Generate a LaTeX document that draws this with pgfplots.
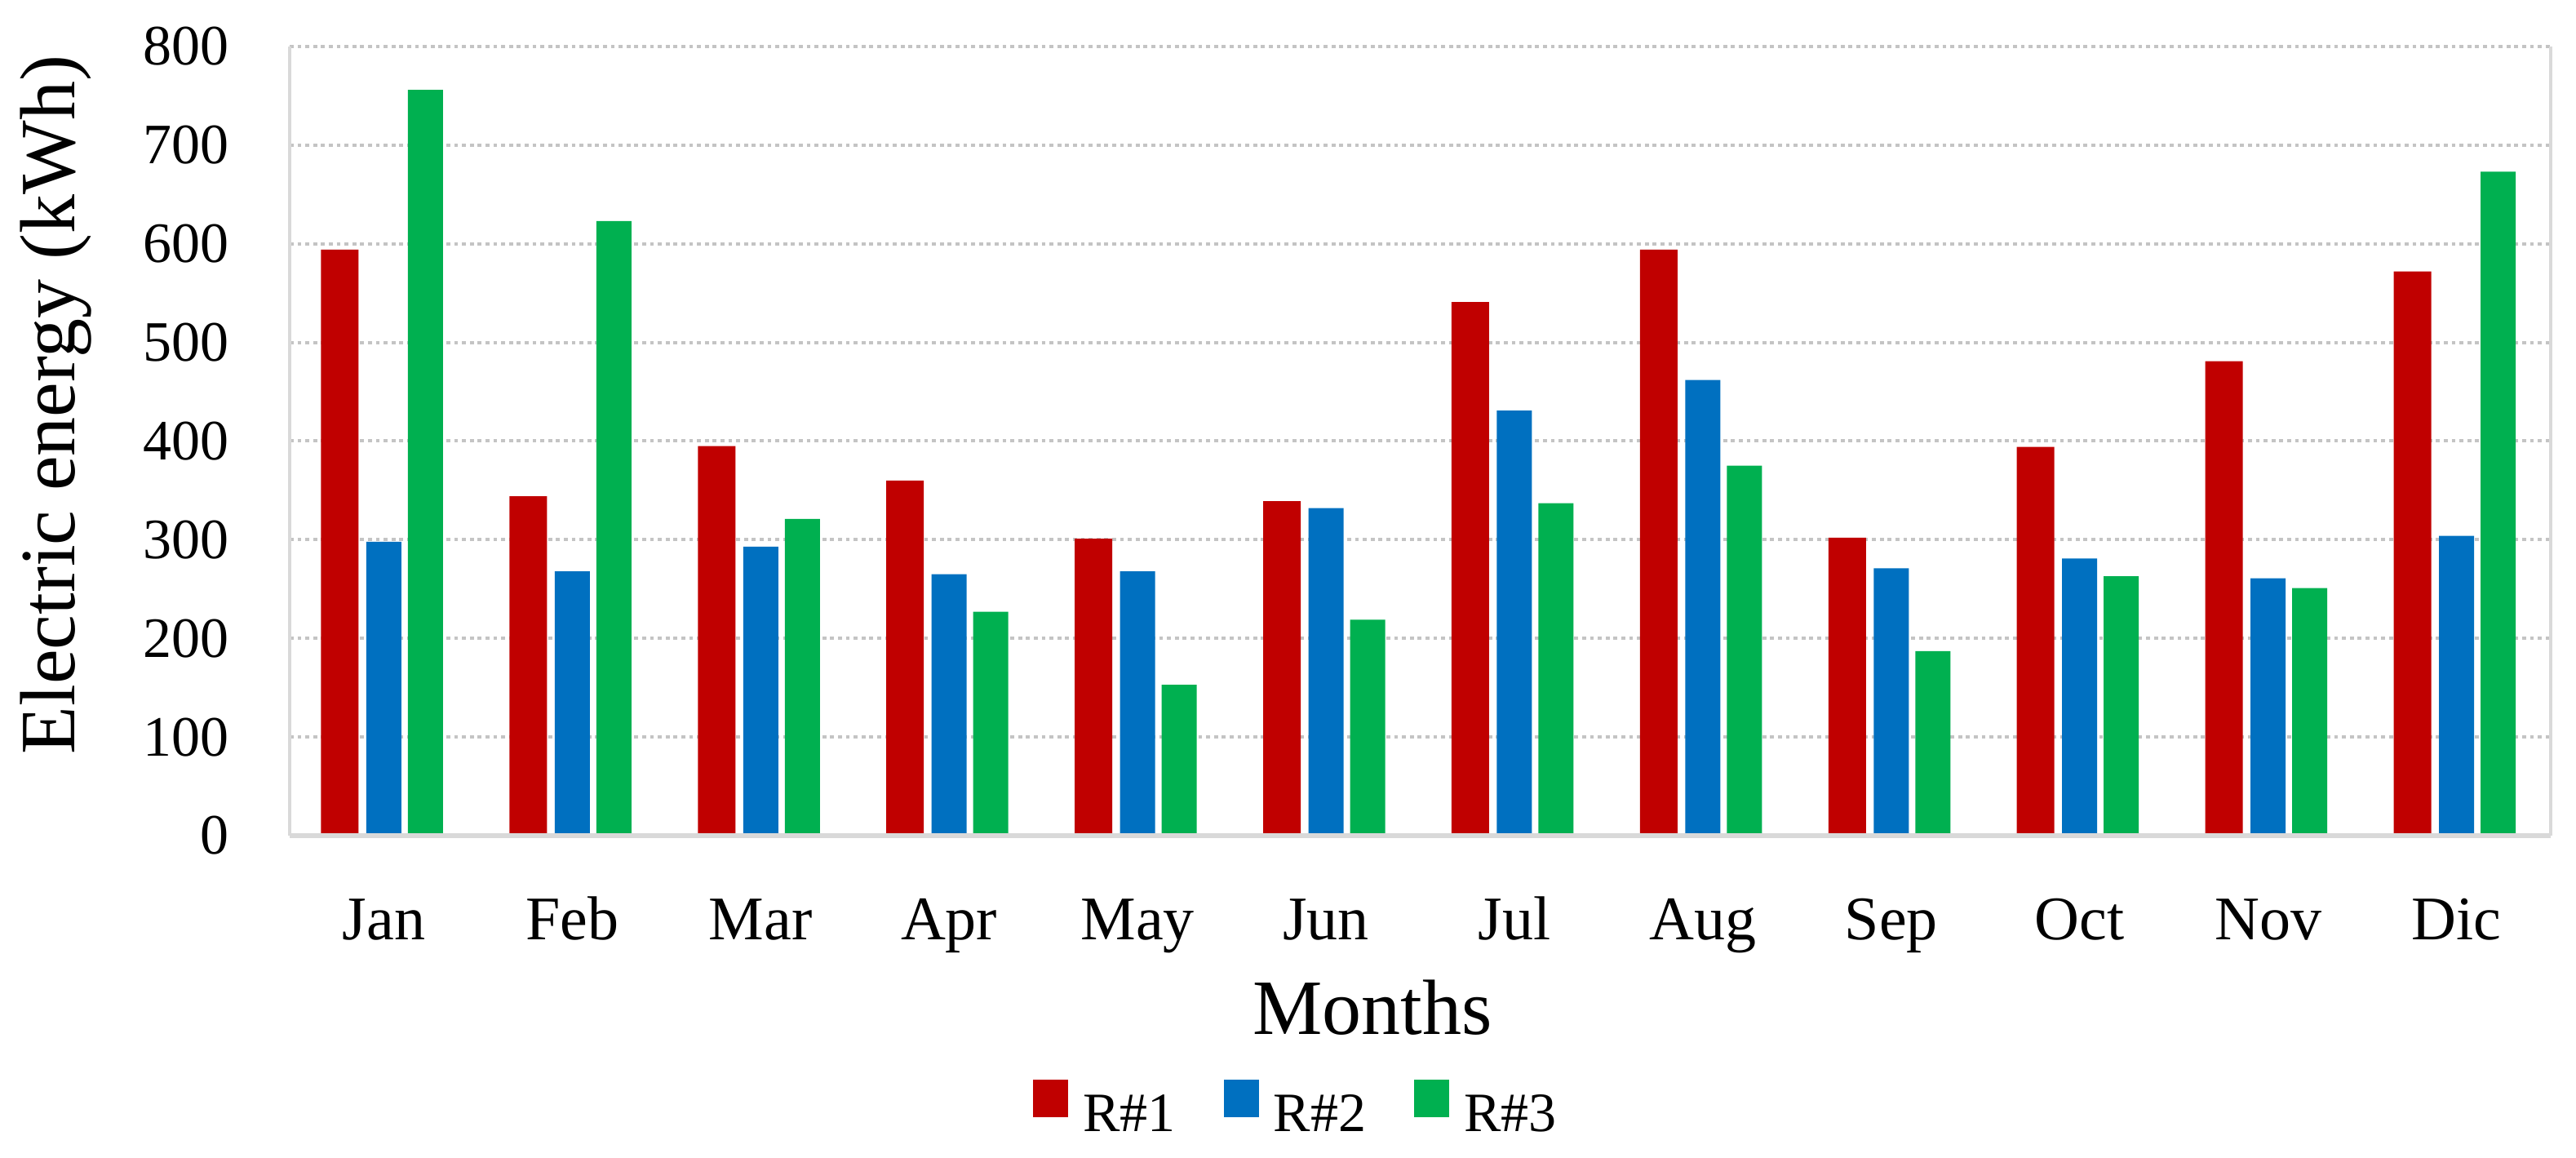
\documentclass[border=0pt]{standalone}
\usepackage{fontspec}
\setmainfont{Liberation Serif}
\usepackage{pgfplots}
\pgfplotsset{compat=1.18}
\definecolor{cR}{HTML}{C00000}
\definecolor{cB}{HTML}{0070C0}
\definecolor{cG}{HTML}{00B050}
\definecolor{gridc}{HTML}{C4C4C4}
\definecolor{axc}{HTML}{D9D9D9}
\begin{document}
\begin{tikzpicture}
\useasboundingbox (-88.75pt,-98.75pt) rectangle (700.5pt,256pt);
\begin{axis}[
  at={(0pt,0pt)}, anchor=south west,
  scale only axis, width=692.75pt, height=241.75pt,
  xmin=-0.5, xmax=11.5, ymin=0, ymax=800,
  ytick={0,100,...,800},
  xtick={0,...,11},
  xticklabels={Jan,Feb,Mar,Apr,May,Jun,Jul,Aug,Sep,Oct,Nov,Dic},
  major tick length=0pt,
  ymajorgrids,
  grid style={draw=gridc, line width=1pt, dash pattern=on 1.2pt off 1.2pt},
  axis line style={draw=none},
  /pgf/number format/assume math mode=true,
  yticklabel style={font=\fontsize{17.5}{20}\selectfont, anchor=east, inner sep=0pt, xshift=-18.5pt},
  xticklabel style={font=\fontsize{19}{22}\selectfont, anchor=base, inner sep=0pt, yshift=-32pt},
  ybar=2pt, bar width=10.75pt,
  clip=false,
  legend columns=3,
  legend image code/.code={\fill[#1] (0pt,-0.4pt) rectangle (10.75pt,10.9pt);},
  legend style={draw=none, fill=none, at={(0.4446,-0.3454)}, anchor=center,
    font=\fontsize{17}{20}\selectfont, inner sep=0pt,
    nodes={inner sep=0pt},
    /tikz/every odd column/.append style={column sep=4.5pt},
    /tikz/every even column/.append style={column sep=14.75pt}},
]
\addplot[fill=cR, draw=none, bar width=11.5pt] coordinates {
(0,594) (1,344) (2,395) (3,360) (4,301) (5,339) (6,541) (7,594) (8,302) (9,394) (10,481) (11,572)};
\addplot[fill=cB, draw=none] coordinates {
(0,298) (1,268) (2,293) (3,265) (4,268) (5,332) (6,431) (7,462) (8,271) (9,281) (10,261) (11,304)};
\addplot[fill=cG, draw=none] coordinates {
(0,756) (1,623) (2,321) (3,227) (4,153) (5,219) (6,337) (7,375) (8,187) (9,263) (10,251) (11,673)};
\legend{R\#1,R\#2,R\#3}
\draw[axc, line width=1.2pt] (rel axis cs:0,0) -- (rel axis cs:0,1);
\draw[axc, line width=1.2pt] (rel axis cs:1,0) -- (rel axis cs:1,1);
\draw[axc, line width=1.5pt] (rel axis cs:0,0) -- (rel axis cs:1,0);
\node[rotate=90, anchor=base, font=\fontsize{24}{28}\selectfont, inner sep=0pt] at (rel axis cs:-0.09491,0.546) {Electric energy (kWh)};
\node[anchor=base, font=\fontsize{24}{28}\selectfont, inner sep=0pt] at (rel axis cs:0.4789,-0.2523) {Months};
\end{axis}
\end{tikzpicture}
\end{document}
